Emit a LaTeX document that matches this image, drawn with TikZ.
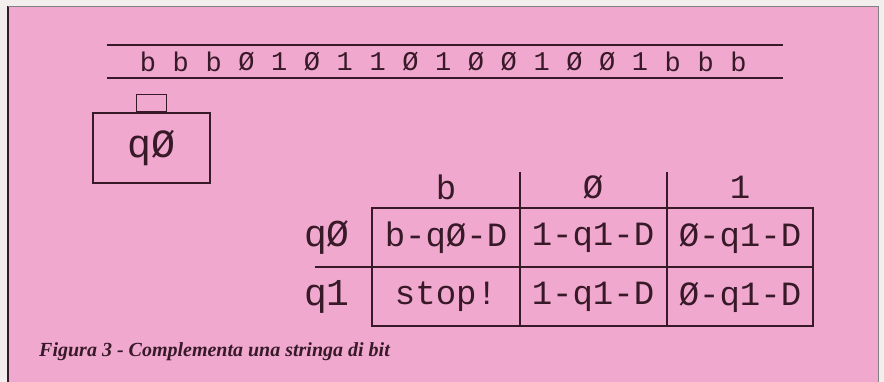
\documentclass[tikz,border=0pt]{standalone}
\usepackage{fontspec}
\setmainfont{Liberation Serif}
\setmonofont{Liberation Mono}
\usetikzlibrary{positioning}

\definecolor{paper}{RGB}{240,168,206}
\definecolor{ink}{RGB}{55,25,40}
\definecolor{margin}{RGB}{242,238,238}

\tikzset{
  tapechar/.style={font=\ttfamily\fontsize{27}{27}\selectfont, text=ink, inner sep=0pt},
  cell/.style={font=\ttfamily\fontsize{34}{34}\selectfont, text=ink, inner sep=0pt},
  rule/.style={draw=ink, line width=1.3pt},
}

\begin{document}
\begin{tikzpicture}[x=1pt, y=-1pt]
  \useasboundingbox (0,0) rectangle (884,382);
  \fill[margin] (0,0) rectangle (884,382);
  \fill[paper] (8,6) rectangle (878,382);
  \draw[ink, line width=1.2pt] (8,6) -- (8,382);
  \draw[gray, line width=0.8pt] (8,6) -- (878,6) -- (878,382);

  % nastro
  \coordinate (nw) at (107,45);
  \coordinate (ne) at (783,45);
  \coordinate (sw) at (107,78);
  \coordinate (se) at (783,78);
  \draw[rule] (nw) -- (ne);
  \draw[rule] (sw) -- (se);
  \foreach \c [count=\i from 0] in {b,b,b,Ø,1,Ø,1,1,Ø,1,Ø,Ø,1,Ø,Ø,1,b,b,b}
    \node[tapechar] (t\i) at (148+32.8*\i, 62) {\c};

  % testina
  \node[rule, minimum width=117pt, minimum height=70pt, cell,
        font=\ttfamily\fontsize{40}{40}\selectfont] (head) at (151.5,148) {qØ};
  \node[rule, minimum width=30pt, minimum height=17pt, anchor=south] (tab) at (head.north) {};

  % tabella
  \coordinate (a) at (372,208);
  \coordinate (b) at (813,326);
  \coordinate (m1) at (315,267);
  \coordinate (m2) at (813,267);
  \draw[rule] (a) rectangle (b);
  \draw[rule] (m1) -- (m2);
  \draw[rule] (520,172) -- (520,326);
  \draw[rule] (667,172) -- (667,326);

  \node[cell] (hb) at (446,187) {b};
  \node[cell] (h0) at (593,187) {Ø};
  \node[cell] (h1) at (740,187) {1};
  \node[cell, font=\ttfamily\fontsize{38}{38}\selectfont] (r0) at (327,238) {qØ};
  \node[cell, font=\ttfamily\fontsize{38}{38}\selectfont] (r1) at (327,297) {q1};

  \node[cell] (c00) at (446,238) {b-qØ-D};
  \node[cell] (c01) at (593,238) {1-q1-D};
  \node[cell] (c02) at (740,238) {Ø-q1-D};
  \node[cell] (c10) at (446,297) {stop!};
  \node[cell] (c11) at (593,297) {1-q1-D};
  \node[cell] (c12) at (740,297) {Ø-q1-D};

  \node[anchor=west, text=ink, inner sep=0pt,
        font=\fontsize{20}{20}\selectfont\bfseries\itshape] (cap) at (39,352)
        {Figura 3 - Complementa una stringa di bit};
\end{tikzpicture}
\end{document}
